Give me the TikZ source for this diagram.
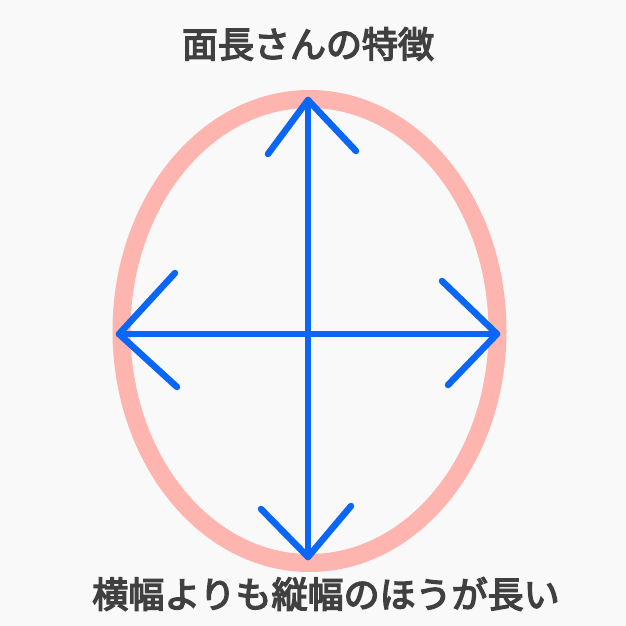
\documentclass[tikz,border=0pt]{standalone}
\usepackage{fontspec}
\newfontfamily\jp[FakeBold=4]{Noto Sans CJK JP}
\definecolor{bg}{HTML}{F9F9F9}
\definecolor{pinkring}{HTML}{FFB5AF}
\definecolor{arrowblue}{HTML}{0A66F5}
\definecolor{txt}{HTML}{404040}
\begin{document}
\begin{tikzpicture}[x=1pt,y=-1pt,
  ring/.style={draw=pinkring,line width=18pt},
  shaft/.style={draw=arrowblue,line width=6.5pt,line cap=round,line join=round},
  label/.style={font=\jp\fontsize{36}{43}\selectfont,text=txt,inner sep=0pt}]
\fill[bg] (0,0) rectangle (626,626);
\useasboundingbox (0,0) rectangle (626,626);
\draw[ring] (309.5,331) ellipse [x radius=188, y radius=232];
% named coordinates
\coordinate (T) at (308,100);
\coordinate (B) at (308,557);
\coordinate (L) at (119,334);
\coordinate (R) at (497,334);
\coordinate (T1) at (268,154);
\coordinate (T2) at (356,151);
\coordinate (B1) at (261,509);
\coordinate (B2) at (351,506);
\coordinate (L1) at (175,273);
\coordinate (L2) at (177,387);
\coordinate (R1) at (442,281);
\coordinate (R2) at (448,385);
\draw[shaft] (T) -- (B);
\draw[shaft] (L) -- (R);
\draw[shaft] (T1) -- (T) -- (T2);
\draw[shaft] (B1) -- (B) -- (B2);
\draw[shaft] (L1) -- (L) -- (L2);
\draw[shaft] (R1) -- (R) -- (R2);
\node[label] (title) at (308,44) {面長さんの特徴};
\node[label] (caption) at (326,594) {横幅よりも縦幅のほうが長い};
\end{tikzpicture}
\end{document}
